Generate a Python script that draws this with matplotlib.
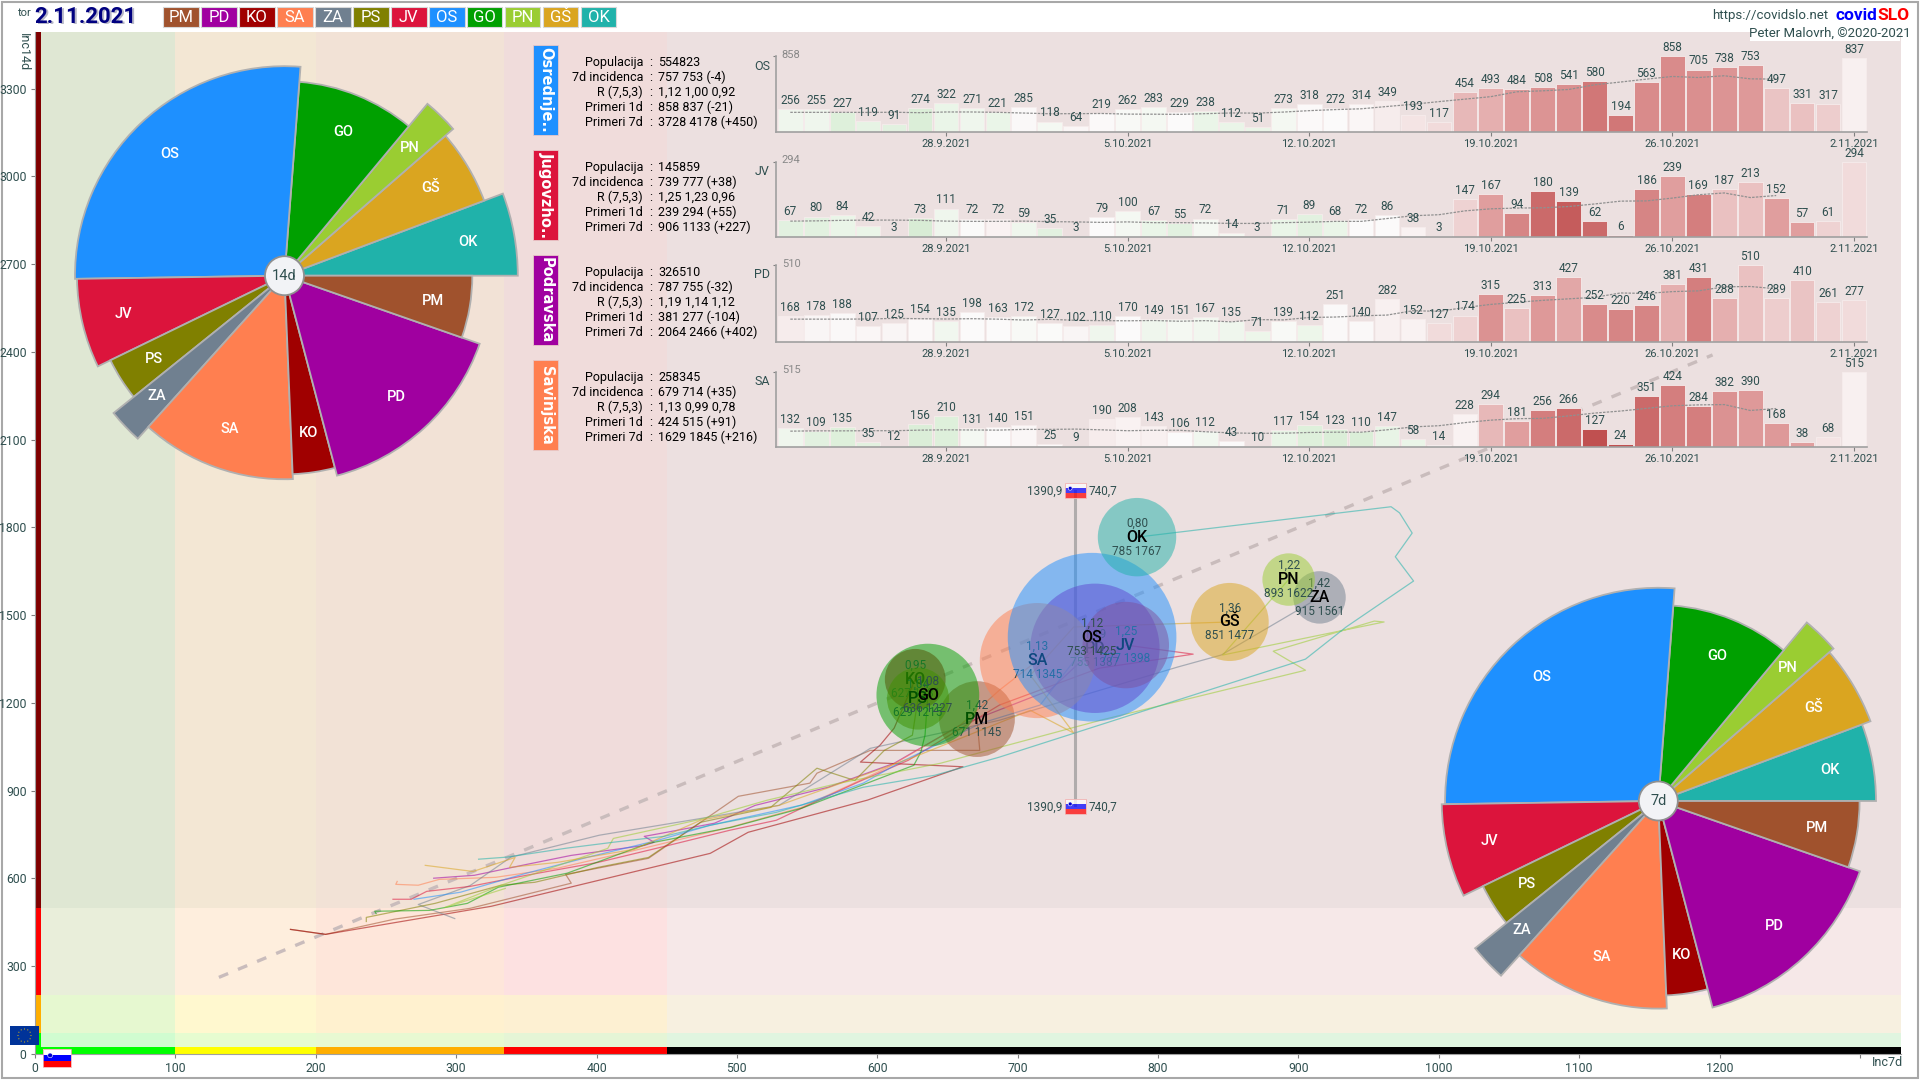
import matplotlib
matplotlib.use("Agg")
import numpy as np
import matplotlib.pyplot as plt
from matplotlib.patches import Wedge, Circle, Rectangle, Ellipse
from matplotlib.colors import LinearSegmentedColormap

plt.rcParams['font.family'] = ['Roboto', 'DejaVu Sans']
DARK = '#2f4f4f'

# ---------- regions ----------
codes = ['PM', 'PD', 'KO', 'SA', 'ZA', 'PS', 'JV', 'OS', 'GO', 'PN', 'GŠ', 'OK']
colors = ['#a0522d', '#a000a0', '#a00000', '#ff7f50', '#708090', '#808000',
          '#dc143c', '#1e90ff', '#00a000', '#9acd32', '#daa520', '#20b2aa']
population = [112000, 326510, 72000, 258345, 53700, 75000,
              145859, 554823, 206000, 53700, 119000, 120000]
inc7d = [671, 755, 627, 714, 915, 629, 777, 753, 636, 893, 851, 785]
inc14d = [1145, 1387, 1281, 1345, 1561, 1215, 1398, 1425, 1227, 1622, 1477, 1767]
r_val = ['1,42', '1,19', '0,95', '1,13', '1,42', '1,04', '1,25', '1,12', '1,08', '1,22', '1,36', '0,80']

# trajectories (inc7d, inc14d)
tr = {
 'PM': ([182,207,256,310,382,378,437,501,552,557,595,673,671],
        [426,409,461,498,584,614,669,881,926,960,1038,1038,1145]),
 'PD': ([284,313,350,382,434,441,434,450,484,513,565,612,659,723,755],
        [601,611,648,679,713,724,744,758,789,850,912,994,1124,1244,1387]),
 'KO': ([182,207,325,481,508,593,661,588,602,612,627],
        [426,409,505,686,758,868,982,998,1056,1114,1281]),
 'SA': ([258,257,273,288,328,372,427,495,546,608,659,687,714],
        [590,580,577,597,604,635,696,775,843,981,1124,1244,1345]),
 'ZA': ([299,273,310,339,402,474,530,595,687,814,845,915],
        [463,511,576,673,748,805,850,1045,1141,1323,1364,1561]),
 'PS': ([236,236,285,332,356,401,437,474,524,557,584,605,625,629],
        [453,467,515,577,587,638,672,792,843,977,935,1038,1090,1216]),
 'JV': ([255,268,279,310,350,401,452,495,528,546,586,622,687,758,825,777],
        [529,529,556,573,611,655,714,765,799,840,929,1004,1193,1319,1367,1398]),
 'OS': ([270,303,350,394,444,481,546,590,615,674,716,753],
        [529,553,618,673,731,782,851,926,994,1131,1193,1425]),
 'GO': ([243,242,281,308,330,379,437,496,546,626,631,634,636],
        [480,488,491,515,570,618,720,775,840,987,1032,1090,1227]),
 'PN': ([335,292,332,408,412,474,521,572,645,759,905,882,954,961,846,893],
        [566,501,577,703,737,802,867,925,994,1141,1312,1377,1480,1477,1364,1622]),
 'GŠ': ([278,312,342,338,372,427,474,530,626,709,740,709,740,851],
        [645,624,672,638,655,700,799,850,1015,1175,1097,1295,1460,1477]),
 'OK': ([316,336,379,412,448,481,528,590,641,687,905,934,982,969,981,972,966,785],
        [666,673,704,724,744,782,826,912,953,1015,1350,1460,1617,1700,1781,1850,1871,1767]),
}

# ---------- daily panels ----------
panel_codes = ['OS', 'JV', 'PD', 'SA']
panel_names = ['Osrednje..', 'Jugovzho..', 'Podravska', 'Savinjska']
days = ['28.9.2021', '5.10.2021', '12.10.2021', '19.10.2021', '26.10.2021', '2.11.2021']
day_idx = [6, 13, 20, 27, 34, 41]
daily = {
 'OS': [256,255,227,119,91,274,322,271,221,285,118,64,219,262,283,229,238,112,51,273,318,272,314,349,193,117,454,493,484,508,541,580,194,563,858,705,738,753,497,331,317,837],
 'JV': [67,80,84,42,3,73,111,72,72,59,35,3,79,100,67,55,72,14,3,71,89,68,72,86,38,3,147,167,94,180,139,62,6,186,239,169,187,213,152,57,61,294],
 'PD': [168,178,188,107,125,154,135,198,163,172,127,102,110,170,149,151,167,135,71,139,112,251,140,282,152,127,174,315,225,313,427,252,220,246,381,431,288,510,289,410,261,277],
 'SA': [132,109,135,35,12,156,210,131,140,151,25,9,190,208,143,106,112,43,10,117,154,123,110,147,58,14,228,294,181,256,266,127,24,351,424,284,382,390,168,38,68,515],
}
avg7 = {
 'OS': [222,222,222,221,223,218,226,226,222,214,206,207,209,202,201,199,207,215,213,225,241,253,262,288,313,343,371,399,454,465,480,533,564,597,627,615,635,600,597],
 'JV': [62,63,65,66,66,65,62,61,61,62,60,59,57,59,56,56,55,53,53,56,58,61,61,72,83,87,102,110,113,114,119,129,140,141,152,165,172,154,162],
 'PD': [150,150,150,151,155,153,151,153,150,144,149,142,140,139,141,136,140,132,147,145,161,164,172,177,206,202,227,248,262,275,285,295,324,321,333,338,365,367,352],
 'SA': [110,112,112,113,113,117,119,118,117,122,122,124,119,113,116,116,106,98,95,96,101,103,103,119,139,147,168,185,195,197,214,233,247,265,283,289,291,251,264],
}
shade = {
 'OS': [-.2,-.2,-.6,-.4,-.5,-.7,-.3,-.2,-.3,.03,-.1,.05,.02,-.05,-.1,0,-.3,-.3,-.3,-.1,.02,0,.05,.15,.2,.25,.45,.5,.65,.68,.72,.9,.9,.75,.75,.72,.68,.65,.38,.4,.33,.12],
 'JV': [-.5,-.5,-.3,-.3,0,-.8,-.2,-.02,.1,-.2,-.5,0,0,-.1,-.3,-.5,-.1,-.1,0,-.3,-.5,-.3,0,0,.1,0,.3,.6,.8,1.0,1.1,1.0,.8,.8,.6,.85,.4,.4,.6,.6,.3,.25],
 'PD': [.15,.08,.03,.05,.08,.01,-.15,0,0,-.05,-.02,.08,-.2,0,-.2,-.1,-.15,-.2,-.25,-.05,-.25,.03,.03,.12,.1,.25,.3,.7,.4,.65,.55,.75,.8,.8,.5,.85,.5,.4,.33,.38,.3,.25],
 'SA': [-.2,-.5,-.6,-.5,.05,-.7,-.6,-.1,0,.05,.02,.1,.15,.1,.12,0,-.15,0,0,-.35,-.6,-.7,-.7,-.35,-.3,0,.1,.45,.6,.85,1.0,1.2,1.2,1.0,.85,.85,.7,.65,.65,.6,.2,.12],
}
info_labels = ['Populacija', '7d incidenca', 'R (7,5,3)', 'Primeri 1d', 'Primeri 7d']
info = {
 'OS': ['554823', '757 753 (-4)', '1,12 1,00 0,92', '858 837 (-21)', '3728 4178 (+450)'],
 'JV': ['145859', '739 777 (+38)', '1,25 1,23 0,96', '239 294 (+55)', '906 1133 (+227)'],
 'PD': ['326510', '787 755 (-32)', '1,19 1,14 1,12', '381 277 (-104)', '2064 2466 (+402)'],
 'SA': ['258345', '679 714 (+35)', '1,13 0,99 0,78', '424 515 (+91)', '1629 1845 (+216)'],
}

# ---------- background zones ----------
x_edges = [0, 100, 200, 334, 450, 1329]
y_edges = [0, 73, 200, 500, 3494]
x_bar = ['#00ff00', '#ffff00', '#ffae00', '#ff0000', '#000000']
y_bar = ['#00ff00', '#ffae00', '#ff0000', '#800000']
zone = [['#d0fcd0', '#e6fcd0', '#e8f9d2', '#e5f5d6', '#e0f5e0'],
        ['#e6f8d0', '#fff8cf', '#fff1cf', '#fdf0d2', '#f7f0e0'],
        ['#e9eeda', '#feeedd', '#fee6da', '#fde1e1', '#f6e8e8'],
        ['#dfe7d3', '#f3e7d4', '#f2e2d6', '#f0dcdb', '#ece0e0']]

W, H = 1920, 1080
fig = plt.figure(figsize=(19.2, 10.8), dpi=100, facecolor='white')

def rect(l, t, r, b):
    return [l / W, 1 - b / H, (r - l) / W, (b - t) / H]

# ---------- main scatter ----------
ax = fig.add_axes(rect(35, 32, 1900.7, 1054), zorder=1)
ax.set_xlim(x_edges[0], x_edges[-1])
ax.set_ylim(y_edges[0], y_edges[-1])
for j in range(4):
    for i in range(5):
        ax.add_patch(Rectangle((x_edges[i], y_edges[j]), x_edges[i+1]-x_edges[i], y_edges[j+1]-y_edges[j],
                               fc=zone[j][i], ec='none', zorder=0))
for i in range(5):
    ax.add_patch(Rectangle((x_edges[i], 0), x_edges[i+1]-x_edges[i], 24, fc=x_bar[i], ec='none', zorder=1))
for j in range(4):
    ax.add_patch(Rectangle((0, y_edges[j]), 4.6, y_edges[j+1]-y_edges[j], fc=y_bar[j], ec='none', zorder=1))
ax.set_xticks(range(0, 1301, 100))
ax.set_xticklabels([str(v) for v in range(0, 1201, 100)] + [''])
ax.set_yticks(range(0, 3301, 300))
ax.tick_params(colors=DARK, labelsize=8.8, length=3, width=0.8, pad=3, color='#808080')
for s in ('top', 'right'):
    ax.spines[s].set_visible(False)
for s in ('left', 'bottom'):
    ax.spines[s].set_color('#a0a0a0')

ax.plot([131, 1195], [262, 2390], color='#c9bcbc', lw=2.4, dashes=(3, 3.2), zorder=2)
for c, col in zip(codes, colors):
    ax.plot(tr[c][0], tr[c][1], color=col, lw=0.9, alpha=0.55, zorder=3)

# Slovenia reference line
SI7, SI14 = 740.7, 1390.9
ax.plot([SI7, SI7], [850, 1925], color='#909090', lw=2.2, alpha=0.65, zorder=4)

# bubbles in legend order; each text is covered by later bubbles
rk = 0.1132
px_per_x = (1900.7 - 35) / (x_edges[-1])
px_per_y = (1054 - 32) / (y_edges[-1])
z = 5
for c, col, p, x, y, rv in zip(codes, colors, population, inc7d, inc14d, r_val):
    rad = rk * np.sqrt(p)
    ax.add_patch(Ellipse((x, y), 2*rad/px_per_x, 2*rad/px_per_y, fc=col, ec='none', alpha=0.5, zorder=z))
    ax.annotate(rv, (x, y), xytext=(0, 10), textcoords='offset points', ha='center', va='center',
                fontsize=8.5, color=DARK, zorder=z + .1)
    ax.annotate(c, (x, y), ha='center', va='center', fontsize=11.5, fontweight='medium', color='black', zorder=z + .1)
    ax.annotate(f'{x} {y}', (x, y), xytext=(0, -10), textcoords='offset points', ha='center', va='center',
                fontsize=8.5, color=DARK, zorder=z + .1)
    z += 1

# ---------- daily bar panels ----------
cmap = LinearSegmentedColormap.from_list('d', [
    (0.0, '#d2e8ce'), (0.19, '#dff0dc'), (0.38, '#f0f7ee'), (0.4545, '#fbfafa'),
    (0.5, '#f9f3f3'), (0.55, '#f3e2e2'), (0.64, '#e9bfbf'), (0.73, '#e09e9e'),
    (0.84, '#d47f7f'), (0.91, '#cb6a6a'), (1.0, '#c05050')])
tops = [56, 161.7, 265, 371.7]
bases = [132, 237, 341.7, 447.3]
idx = np.arange(42)
for k, pc in enumerate(panel_codes):
    a = fig.add_axes(rect(776.3, tops[k], 1867, bases[k]), zorder=2, facecolor='none')
    vals = daily[pc]
    norm = (np.array(shade[pc]) + 1) / 2.2
    a.bar(idx, vals, width=0.95, color=cmap(norm), edgecolor='#f6ecec', linewidth=0.6, zorder=1)
    a.plot(idx[:39], avg7[pc], color='#909090', lw=0.9, ls=(0, (2, 1)), zorder=2)
    a.set_xlim(-0.54, 41.5)
    a.set_ylim(0, max(vals))
    for i, v in zip(idx, vals):
        a.annotate(str(v), (i, v), xytext=(0, 1.5), textcoords='offset points', ha='center', va='bottom',
                   fontsize=8.5, color=DARK, annotation_clip=False, zorder=3)
    a.set_xticks(day_idx)
    a.set_xticklabels(days)
    a.set_yticks([max(vals)])
    a.set_yticklabels([''])
    a.tick_params(axis='x', colors=DARK, labelsize=8, length=3, width=0.8, pad=2, color='#808080')
    a.tick_params(axis='y', length=2, width=0.8, color='#808080', direction='out')
    for s in ('top', 'right'):
        a.spines[s].set_visible(False)
    for s in ('left', 'bottom'):
        a.spines[s].set_color('#a0a0a0')
        a.spines[s].set_linewidth(1.2)
    a.annotate(str(max(vals)), (0, 1), xycoords='axes fraction', xytext=(4, 1), textcoords='offset points',
               fontsize=8, color='#888888', va='center', annotation_clip=False)

# ---------- pies ----------
def pie(cx, cy, k, vals, label):
    size = 520
    p = fig.add_axes(rect(cx - size/2, cy - size/2, cx + size/2, cy + size/2), zorder=4, facecolor='none')
    p.set_xlim(-size/2, size/2)
    p.set_ylim(-size/2, size/2)
    p.axis('off')
    order = [11, 10, 9, 8, 7, 6, 5, 4, 3, 2, 1, 0]
    total = sum(population)
    th = 0.0
    for o_ in order:
        dth = population[o_] / total * 360
        r = k * np.sqrt(vals[o_])
        p.add_patch(Wedge((0, 0), r, th, th + dth, fc=colors[o_], ec='#b0b0b0', lw=1.3))
        m = np.radians(th + dth / 2)
        p.text(0.8 * r * np.cos(m), 0.8 * r * np.sin(m), codes[o_], color='white', ha='center', va='center',
               fontsize=10.5, fontweight='medium')
        th += dth
    p.add_patch(Circle((0, 0), 19.5, fc='#f2f3f6', ec='#909090', lw=1.3, zorder=5))
    p.text(0, 0, label, color=DARK, ha='center', va='center', fontsize=10.5, zorder=6)

pie(284.5, 275.7, 5.55, inc14d, '14d')
pie(1658.3, 801, 7.77, inc7d, '7d')

# ---------- overlay: header, boxes, info text, flags ----------
o = fig.add_axes([0, 0, 1, 1], zorder=3, facecolor='none')
o.set_xlim(0, W)
o.set_ylim(H, 0)
o.axis('off')
fig.add_artist(Rectangle((0.001, 0.0015), 0.998, 0.997, transform=fig.transFigure, fc='none', ec='#a8a8a8', lw=1.5))

NARROW = ['Liberation Sans Narrow', 'Roboto']
o.text(18, 13, 'tor', fontsize=8, color=DARK, va='center')
o.text(35.8, 18.3, '2.11.2021', fontsize=16, fontweight='bold', color='#b8b8c8', va='center', family=NARROW)
o.text(34.7, 17.3, '2.11.2021', fontsize=16, fontweight='bold', color='#000080', va='center', family=NARROW)
for i, (c, col) in enumerate(zip(codes, colors)):
    l = 163.3 + i * 37.96
    o.add_patch(Rectangle((l, 7.3), 35.5, 20, fc=col, ec='#d8d8d8', lw=0.8))
    o.text(l + 17.7, 17.3, c, color='white', fontsize=12, ha='center', va='center')

o.add_patch(Rectangle((1750, 27), 150, 14, fc='white', ec='none'))
o.text(1828, 15.3, 'https://covidslo.net', fontsize=9.5, color=DARK, ha='right', va='center')
o.text(1877, 15.3, 'covid', fontsize=12.5, fontweight='bold', color='#0000ff', ha='right', va='center')
o.text(1877, 15.3, 'SLO', fontsize=12.5, fontweight='bold', color='#ff0000', ha='left', va='center')
o.text(1911, 33.7, 'Peter Malovrh, ©2020-2021', fontsize=9.5, color=DARK, ha='right', va='center')

o.text(23, 33, 'Inc14d', rotation=270, fontsize=9, color=DARK, ha='center', va='top')
o.text(1903, 1062.7, 'Inc7d', fontsize=9, color=DARK, ha='right', va='center')

box_colors = [colors[codes.index(c)] for c in panel_codes]
for k, pc in enumerate(panel_codes):
    t = 45.3 + 105 * k
    o.add_patch(Rectangle((533.4, t), 25, 90, fc=box_colors[k], ec='#e8c8c8', lw=0.6))
    o.text(546, t + 45, panel_names[k], rotation=270, color='white', fontsize=10.5, fontweight='bold',
           family='DejaVu Sans', ha='center', va='center')
    for j, lab in enumerate(info_labels):
        y = 62.7 + 105 * k + 15 * j
        o.text(643, y, lab, color='black', fontsize=9, ha='right', va='center')
        o.text(651, y, ':', color='black', fontsize=9, ha='center', va='center')
        o.text(658, y, info[pc][j], color='black', fontsize=9, ha='left', va='center')
    o.text(770, tops[k] + 10, pc, color=DARK, fontsize=9, ha='right', va='center')

def si_flag(l, t, w, h, alpha=1.0):
    for n, col in enumerate(['#ffffff', '#0000ff', '#ff0000']):
        o.add_patch(Rectangle((l, t + n * h / 3), w, h / 3, fc=col, ec='none', alpha=alpha))
    o.add_patch(Rectangle((l, t), w, h, fc='none', ec='#f0b0b0', lw=0.6))
    o.add_patch(Circle((l + w * 0.25, t + h * 0.35), h * 0.13, fc='#0000cc', ec='white', lw=0.4))

si_flag(43, 1049, 28.4, 18.3)
si_flag(1065, 483, 20.7, 15, alpha=0.72)
si_flag(1065, 798.7, 20.7, 15, alpha=0.72)
for y in (491, 807):
    o.text(1062, y, f'{SI14}'.replace('.', ','), color=DARK, fontsize=8.5, ha='right', va='center')
    o.text(1088.6, y, f'{SI7}'.replace('.', ','), color=DARK, fontsize=8.5, ha='left', va='center')

o.add_patch(Rectangle((10, 1026), 29, 19, fc='#003399', ec='none'))
for ang in range(0, 360, 30):
    o.add_patch(Circle((24.5 + 6.5 * np.cos(np.radians(ang)), 1035.5 + 6.5 * np.sin(np.radians(ang))), 0.6, fc='#c8a820', ec='none'))

fig.savefig('out.png', dpi=100, facecolor='white')
